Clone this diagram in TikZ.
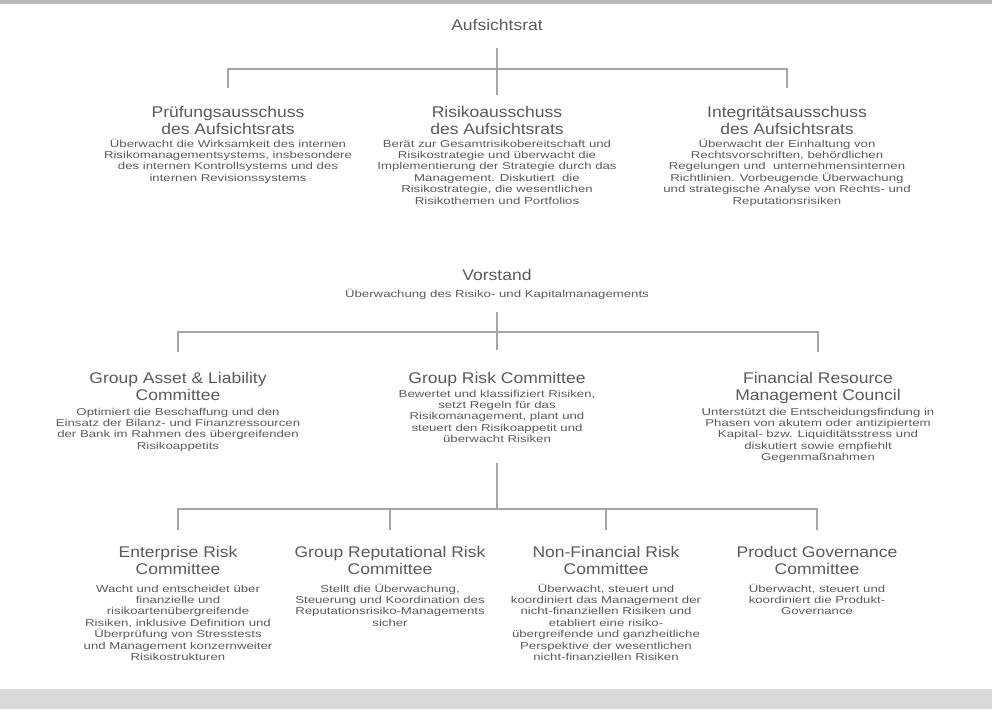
\documentclass[tikz,border=0pt]{standalone}
\usepackage{fontspec}
\setmainfont{Liberation Sans}
\newfontfamily\ttlfont[FakeStretch=1.13]{Liberation Sans}
\newfontfamily\dscfont[FakeStretch=1.32]{Liberation Sans}
\definecolor{txt}{HTML}{5A5A5A}
\definecolor{lnc}{HTML}{A6A6A6}
\definecolor{band}{HTML}{D9D9D9}
\tikzset{
  ttl/.style={anchor=base, align=center, inner sep=0pt, text=txt,
    font=\ttlfont\fontsize{15.5}{17.5}\selectfont},
  dsc/.style={anchor=base, align=center, inner sep=0pt, text=txt,
    font=\dscfont\fontsize{10}{11.4}\selectfont},
  ln/.style={draw=lnc, line width=1.4pt}
}
\begin{document}
\begin{tikzpicture}[x=1pt,y=-1pt]
% note: anchor=base of a multi-line node is the baseline of its LAST line
\useasboundingbox (0,0) rectangle (992,709);
\fill[lnc!80] (0,0) rectangle (992,4);
\fill[band] (0,689) rectangle (992,709);

% Level 0
\node[ttl] (ar) at (497,31) {Aufsichtsrat};
\coordinate (a0) at (497,48);
\coordinate (a1) at (497,95);
\coordinate (bus1) at (497,69);

% Level 1
\node[ttl] (p1) at (228,134.5) {Prüfungsausschuss\\des Aufsichtsrats};
\node[dsc] (p1d) at (228,181.2) {Überwacht die Wirksamkeit des internen\\Risikomanagementsystems, insbesondere\\des internen Kontrollsystems und des\\internen Revisionssystems};
\node[ttl] (p2) at (497,134.5) {Risikoausschuss\\des Aufsichtsrats};
\node[dsc] (p2d) at (497,204) {Berät zur Gesamtrisikobereitschaft und\\Risikostrategie und überwacht die\\Implementierung der Strategie durch das\\Management. Diskutiert\ \ die\\Risikostrategie, die wesentlichen\\Risikothemen und Portfolios};
\node[ttl] (p3) at (787,134.5) {Integritätsausschuss\\des Aufsichtsrats};
\node[dsc] (p3d) at (787,204) {Überwacht der Einhaltung von\\Rechtsvorschriften, behördlichen\\Regelungen und\ \ unternehmensinternen\\Richtlinien. Vorbeugende Überwachung\\und strategische Analyse von Rechts- und\\Reputationsrisiken};
\coordinate (p1t) at (228,88);
\coordinate (p3t) at (787,88);

\draw[ln] (a0) -- (a1);
\draw[ln] (p1t) -- (p1t |- bus1) -- (p3t |- bus1) -- (p3t);

% Vorstand
\node[ttl] (vs) at (497,280) {Vorstand};
\node[dsc] (vsd) at (497,297) {Überwachung des Risiko- und Kapitalmanagements};
\coordinate (v0) at (497,312);
\coordinate (v1) at (497,350);
\coordinate (bus2) at (497,332);
\coordinate (g1t) at (178,352);
\coordinate (g3t) at (818,352);
\draw[ln] (v0) -- (v1);
\draw[ln] (g1t) -- (g1t |- bus2) -- (g3t |- bus2) -- (g3t);

% Level 2
\node[ttl] (g1) at (178,400.5) {Group Asset \& Liability\\Committee};
\node[dsc] (g1d) at (178,449.2) {Optimiert die Beschaffung und den\\Einsatz der Bilanz- und Finanzressourcen\\der Bank im Rahmen des übergreifenden\\Risikoappetits};
\node[ttl] (g2) at (497,383) {Group Risk Committee};
\node[dsc] (g2d) at (497,442.6) {Bewertet und klassifiziert Risiken,\\setzt Regeln für das\\Risikomanagement, plant und\\steuert den Risikoappetit und\\überwacht Risiken};
\node[ttl] (g3) at (818,400.5) {Financial Resource\\Management Council};
\node[dsc] (g3d) at (818,460.6) {Unterstützt die Entscheidungsfindung in\\Phasen von akutem oder antizipiertem\\Kapital- bzw. Liquiditätsstress und\\diskutiert sowie empfiehlt\\Gegenmaßnahmen};

\coordinate (c0) at (497,463);
\coordinate (bus3) at (497,509);
\coordinate (e1t) at (178,530);
\coordinate (e2t) at (390,530);
\coordinate (e3t) at (606,530);
\coordinate (e4t) at (817,530);
\draw[ln] (c0) -- (bus3);
\draw[ln] (e1t) -- (e1t |- bus3) -- (e4t |- bus3) -- (e4t);
\draw[ln] (e2t) -- (e2t |- bus3);
\draw[ln] (e3t) -- (e3t |- bus3);

% Level 3
\node[ttl] (e1) at (178,574.5) {Enterprise Risk\\Committee};
\node[dsc] (e1d) at (178,660.4) {Wacht und entscheidet über\\finanzielle und\\risikoartenübergreifende\\Risiken, inklusive Definition und\\Überprüfung von Stresstests\\und Management konzernweiter\\Risikostrukturen};
\node[ttl] (e2) at (390,574.5) {Group Reputational Risk\\Committee};
\node[dsc] (e2d) at (390,626.2) {Stellt die Überwachung,\\Steuerung und Koordination des\\Reputationsrisiko-Managements\\sicher};
\node[ttl] (e3) at (606,574.5) {Non-Financial Risk\\Committee};
\node[dsc] (e3d) at (606,660.4) {Überwacht, steuert und\\koordiniert das Management der\\nicht-finanziellen Risiken und\\etabliert eine risiko-\\übergreifende und ganzheitliche\\Perspektive der wesentlichen\\nicht-finanziellen Risiken};
\node[ttl] (e4) at (817,574.5) {Product Governance\\Committee};
\node[dsc] (e4d) at (817,614.8) {Überwacht, steuert und\\koordiniert die Produkt-\\Governance};
\end{tikzpicture}
\end{document}
